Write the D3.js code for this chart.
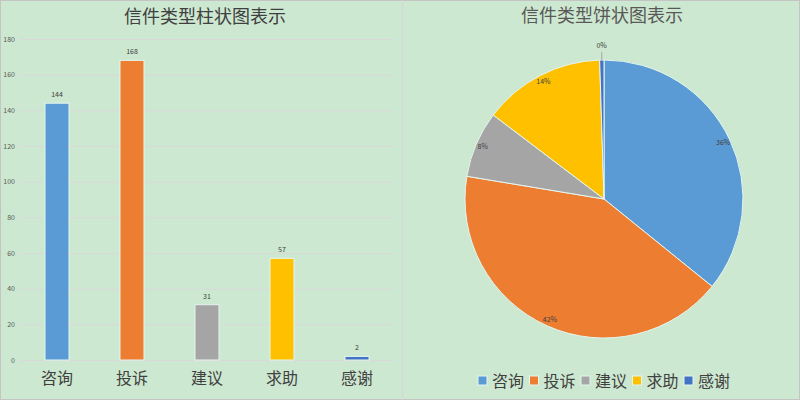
<!DOCTYPE html>
<html>
<head>
<meta charset="utf-8">
<script src="https://cdn.jsdelivr.net/npm/d3@7"></script>
<style>
  body { margin: 0; background: #cde8d0; }
  svg { display: block; }
</style>
</head>
<body>
<svg id="chart" width="800" height="400"></svg>
<script>
const categories = ["咨询", "投诉", "建议", "求助", "感谢"]
const counts = [144, 168, 31, 57, 2]
const colors = ["#5b9bd5", "#ed7d31", "#a5a5a5", "#ffc000", "#4472c4"]
const yTicks = [0, 20, 40, 60, 80, 100, 120, 140, 160, 180]

const font = "'Noto Sans CJK SC', 'Noto Sans', sans-serif"
const svg = d3.select("#chart")

svg.append("rect")
    .attr("x", 0.5).attr("y", 0.5)
    .attr("width", 799).attr("height", 399)
    .attr("fill", "#cde8d0")
    .attr("stroke", "#c4c4c4")

// divider between the two charts
svg.append("line")
    .attr("x1", 402.5).attr("x2", 402.5)
    .attr("y1", 0).attr("y2", 400)
    .attr("stroke", "#d6d6d6")

// ---- bar chart ----
const x = d3.scaleBand()
    .domain(categories)
    .range([19.5, 394.5])
    .paddingInner(0.68)
    .paddingOuter(0.34)

const y = d3.scaleLinear()
    .domain([0, 180])
    .range([360, 39])

const bar = svg.append("g")

bar.append("text")
    .attr("x", 205).attr("y", 23)
    .attr("text-anchor", "middle")
    .attr("font-family", font)
    .attr("font-size", 18)
    .attr("fill", "#404040")
    .text("信件类型柱状图表示")

const yAxis = g => g
    .attr("transform", "translate(20,0)")
    .call(d3.axisLeft(y).tickValues(yTicks).tickSize(-374).tickPadding(5))
    .call(g => g.select(".domain").remove())
    .call(g => g.selectAll(".tick line").attr("stroke", "#d9d9d9"))
    .call(g => g.selectAll(".tick text")
        .attr("fill", "#595959")
        .attr("font-family", font)
        .attr("font-size", 7))

bar.append("g").call(yAxis)

bar.append("g")
    .selectAll("rect")
    .data(counts)
    .join("rect")
    .attr("x", (d, i) => x(categories[i]))
    .attr("y", d => y(d))
    .attr("width", x.bandwidth())
    .attr("height", d => y(0) - y(d))
    .attr("fill", (d, i) => colors[i])
    .attr("stroke", "#e4f6f0")
    .attr("stroke-width", 1)

bar.append("g")
    .attr("text-anchor", "middle")
    .attr("font-family", font)
    .attr("font-size", 7)
    .attr("fill", "#404040")
    .selectAll("text")
    .data(counts)
    .join("text")
    .attr("x", (d, i) => x(categories[i]) + x.bandwidth() / 2)
    .attr("y", d => y(d) - 6)
    .text(d => d)

const xAxis = g => g
    .attr("transform", "translate(0,360)")
    .call(d3.axisBottom(x).tickSize(0).tickPadding(13))
    .call(g => g.select(".domain").remove())
    .call(g => g.selectAll(".tick text")
        .attr("fill", "#404040")
        .attr("font-family", font)
        .attr("font-size", 16))

bar.append("g").call(xAxis)

// ---- pie chart ----
const cx = 604, cy = 199, radius = 139
const total = d3.sum(counts)

const pie = d3.pie().sort(null)
const arcs = pie(counts)
const arc = d3.arc().innerRadius(0).outerRadius(radius)
const labelArc = d3.arc().innerRadius(132).outerRadius(132)

const p = svg.append("g")

p.append("text")
    .attr("x", 602).attr("y", 22)
    .attr("text-anchor", "middle")
    .attr("font-family", font)
    .attr("font-size", 18)
    .attr("fill", "#595959")
    .text("信件类型饼状图表示")

const pg = p.append("g").attr("transform", `translate(${cx},${cy})`)

pg.selectAll("path")
    .data(arcs)
    .join("path")
    .attr("d", arc)
    .attr("fill", (d, i) => colors[i])
    .attr("stroke", "#e4f6f0")
    .attr("stroke-width", 1)

const pct = d => d3.format(".0%")(d.data / total)

pg.selectAll("text.inside")
    .data(arcs.filter(d => d.data / total >= 0.01))
    .join("text")
    .attr("class", "inside")
    .attr("transform", d => `translate(${labelArc.centroid(d)})`)
    .attr("text-anchor", "middle")
    .attr("dy", "0.35em")
    .attr("font-family", font)
    .attr("font-size", 7)
    .attr("fill", "#404040")
    .text(pct)

// small slices get an outside label with a leader line
const small = arcs.filter(d => d.data / total < 0.01)
const outerPt = d3.arc().innerRadius(radius).outerRadius(radius)
const leaderPt = d3.arc().innerRadius(radius + 8).outerRadius(radius + 8)
const outLabel = d3.arc().innerRadius(radius + 13).outerRadius(radius + 13)

pg.selectAll("line.leader")
    .data(small)
    .join("line")
    .attr("class", "leader")
    .attr("x1", d => outerPt.centroid(d)[0])
    .attr("y1", d => outerPt.centroid(d)[1])
    .attr("x2", d => leaderPt.centroid(d)[0])
    .attr("y2", d => leaderPt.centroid(d)[1])
    .attr("stroke", "#a6a6a6")

pg.selectAll("text.outside")
    .data(small)
    .join("text")
    .attr("class", "outside")
    .attr("transform", d => `translate(${outLabel.centroid(d)})`)
    .attr("text-anchor", "middle")
    .attr("dy", "0.2em")
    .attr("font-family", font)
    .attr("font-size", 7)
    .attr("fill", "#404040")
    .text(pct)

// legend
const legend = p.append("g")
    .selectAll("g")
    .data(categories)
    .join("g")
    .attr("transform", (d, i) => `translate(${478 + i * 51.5},376)`)

legend.append("rect")
    .attr("width", 9).attr("height", 9)
    .attr("fill", (d, i) => colors[i])
    .attr("stroke", "#e4f6f0")

legend.append("text")
    .attr("x", 14).attr("y", 5)
    .attr("dy", "0.35em")
    .attr("font-family", font)
    .attr("font-size", 16)
    .attr("fill", "#404040")
    .text(d => d)
</script>
</body>
</html>
